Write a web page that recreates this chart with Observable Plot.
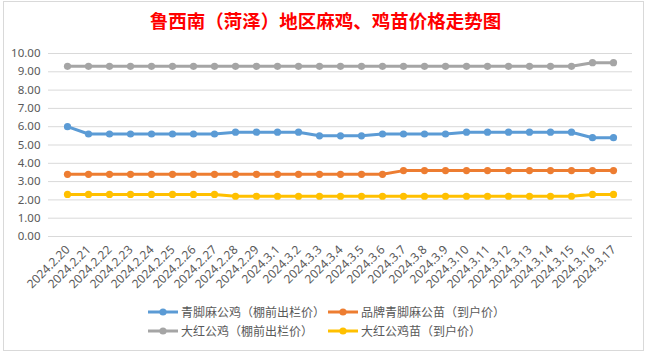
<!DOCTYPE html>
<html><head><meta charset="utf-8">
<script src="https://cdn.jsdelivr.net/npm/d3@7"></script>
<script src="https://cdn.jsdelivr.net/npm/@observablehq/plot@0.6"></script>
<style>
body{margin:0;background:#fff;width:651px;height:355px;position:relative;overflow:hidden;font-family:"Noto Sans CJK SC","Noto Sans",sans-serif;}
#frame{position:absolute;left:3px;top:1px;width:641px;height:350px;border:1px solid #d9d9d9;box-sizing:border-box;}
#title{position:absolute;left:0;width:651px;top:7px;text-align:center;color:#ff0000;font-size:18.5px;font-weight:700;line-height:26px;white-space:nowrap;}
#chart{position:absolute;left:0;top:40px;}
.lg{position:absolute;display:flex;align-items:center;font-size:12px;color:#595959;white-space:nowrap;line-height:16px;}
.lg svg{margin-right:3px;}
</style>
</head><body>
<div id="frame"></div>
<div id="title">鲁西南（菏泽）地区麻鸡、鸡苗价格走势图</div>
<div id="chart"></div>
<div id="legend"></div>
<script>
const dates = ["2024.2.20","2024.2.21","2024.2.22","2024.2.23","2024.2.24","2024.2.25","2024.2.26","2024.2.27","2024.2.28","2024.2.29",
  "2024.3.1","2024.3.2","2024.3.3","2024.3.4","2024.3.5","2024.3.6","2024.3.7","2024.3.8","2024.3.9","2024.3.10",
  "2024.3.11","2024.3.12","2024.3.13","2024.3.14","2024.3.15","2024.3.16","2024.3.17"];
const seriesNames = ["青脚麻公鸡（棚前出栏价）","品牌青脚麻公苗（到户价）","大红公鸡（棚前出栏价）","大红公鸡苗（到户价）"];
const seriesColors = ["#5B9BD5","#ED7D31","#A5A5A5","#FFC000"];
const qingjiaoJi = [6.0,5.6,5.6,5.6,5.6,5.6,5.6,5.6,5.7,5.7,5.7,5.7,5.5,5.5,5.5,5.6,5.6,5.6,5.6,5.7,5.7,5.7,5.7,5.7,5.7,5.4,5.4];
const qingjiaoMiao = [3.4,3.4,3.4,3.4,3.4,3.4,3.4,3.4,3.4,3.4,3.4,3.4,3.4,3.4,3.4,3.4,3.6,3.6,3.6,3.6,3.6,3.6,3.6,3.6,3.6,3.6,3.6];
const dahongJi = [9.3,9.3,9.3,9.3,9.3,9.3,9.3,9.3,9.3,9.3,9.3,9.3,9.3,9.3,9.3,9.3,9.3,9.3,9.3,9.3,9.3,9.3,9.3,9.3,9.3,9.5,9.5];
const dahongMiao = [2.3,2.3,2.3,2.3,2.3,2.3,2.3,2.3,2.2,2.2,2.2,2.2,2.2,2.2,2.2,2.2,2.2,2.2,2.2,2.2,2.2,2.2,2.2,2.2,2.2,2.3,2.3];
const yTicks = [0,1,2,3,4,5,6,7,8,9,10];

const seriesValues = [qingjiaoJi, qingjiaoMiao, dahongJi, dahongMiao];
const rows = [];
seriesNames.forEach((s, k) => dates.forEach((d, i) => rows.push({series: s, date: d, value: seriesValues[k][i]})));

const chart = Plot.plot({
  width: 651, height: 260,
  marginLeft: 48, marginRight: 19, marginTop: 13, marginBottom: 64,
  style: {fontFamily: '"Noto Sans","Noto Sans CJK SC",sans-serif', fontSize: "11px", color: "#595959", background: "transparent", overflow: "visible"},
  x: {type: "point", domain: dates, padding: 0.5, axis: null},
  y: {domain: [0, 10], axis: null},
  color: {domain: seriesNames, range: seriesColors},
  marks: [
    Plot.gridY(yTicks, {stroke: "#d9d9d9", strokeOpacity: 1, strokeWidth: 1}),
    Plot.axisY(yTicks, {tickSize: 0, tickPadding: 8, tickFormat: d => d.toFixed(2), fill: "#595959", fontSize: 11.5, label: null}),
    Plot.text(dates, {x: d => d, frameAnchor: "bottom", rotate: -45, textAnchor: "end", dx: 3, dy: 14, fill: "#595959", fontSize: 12}),
    Plot.line(rows, {x: "date", y: "value", z: "series", stroke: "series", strokeWidth: 3}),
    Plot.dot(rows, {x: "date", y: "value", fill: "series", r: 3.6})
  ]
});
document.getElementById("chart").appendChild(chart);

const legendPos = [[148, 304], [328, 304], [148, 323], [328, 323]];
const legend = document.getElementById("legend");
seriesNames.forEach((s, k) => {
  const div = document.createElement("div");
  div.className = "lg";
  div.style.left = legendPos[k][0] + "px";
  div.style.top = legendPos[k][1] + "px";
  div.innerHTML = `<svg width="30" height="10"><line x1="0" x2="30" y1="5" y2="5" stroke="${seriesColors[k]}" stroke-width="3"/><circle cx="15" cy="5" r="3.6" fill="${seriesColors[k]}"/></svg><span>${s}</span>`;
  legend.appendChild(div);
});
</script>
</body></html>
